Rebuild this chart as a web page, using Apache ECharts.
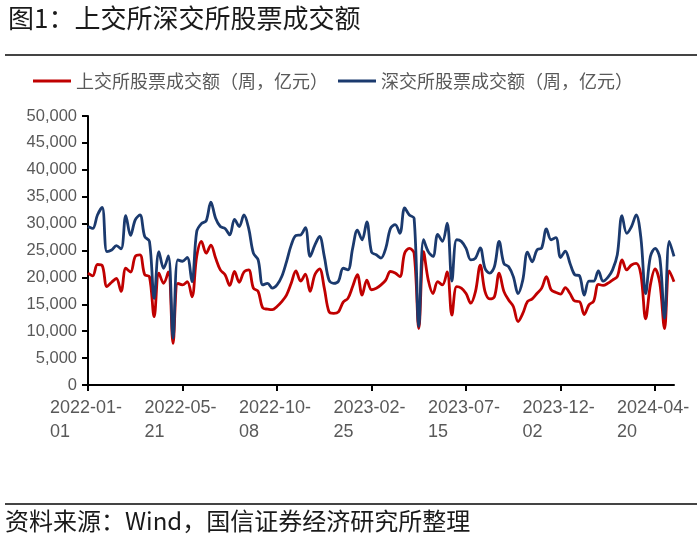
<!DOCTYPE html>
<html>
<head>
<meta charset="utf-8">
<script src="https://cdn.jsdelivr.net/npm/echarts@6/dist/echarts.min.js"></script>
<style>
html,body{margin:0;padding:0;background:#fff;}
#c{width:700px;height:546px;}
</style>
</head>
<body>
<div id="c"></div>
<script>
// Weekly data starting 2022-01-01 (125 weeks)
const startDate = '2022-01-01';
const weekCount = 125;
const shSeriesName = '上交所股票成交额（周，亿元）';
const szSeriesName = '深交所股票成交额（周，亿元）';
const yTicks = [0, 5000, 10000, 15000, 20000, 25000, 30000, 35000, 40000, 45000, 50000];

const shValues = [
  20800, 20300, 22400, 22200, 18300, 19100, 19800, 17400, 21700, 21000,
  23900, 24200, 20500, 20150, 12700, 20800, 18900, 21000, 7750, 18900,
  18600, 19200, 16400, 23900, 26700, 24500, 26000, 23600, 21400, 20500,
  18500, 21100, 19100, 21000, 21400, 18000, 17400, 14300, 14100, 14000,
  14600, 15500, 16700, 18900, 21200, 19300, 20600, 17400, 20500, 21600,
  18000, 13600, 13300, 13600, 15400, 16100, 18300, 20500, 16700, 19500,
  17700, 18000, 18600, 19500, 21100, 20800, 20150, 24500, 25400, 24500,
  10500, 24800, 19500, 17000, 19200, 18600, 21000, 13000, 18300, 18000,
  17000, 15200, 17400, 22300, 17400, 16000, 16400, 20800, 17400, 15800,
  14600, 11800, 13300, 15500, 16000, 17000, 18000, 20150, 17700, 17200,
  16900, 18100, 17000, 15600, 15500, 13100, 14900, 15600, 18700, 18500,
  18900, 19500, 20150, 23250, 21400, 22300, 22600, 20500, 12300, 18600,
  21600, 18900, 10500, 21200, 19200
];

const szValues = [
  29450, 29100, 31600, 33000, 24800, 25100, 25900, 25300, 31500, 27800,
  30700, 31600, 27600, 26700, 16100, 24800, 21700, 24000, 8700, 23250,
  23000, 23700, 19200, 28500, 30000, 30500, 34000, 31000, 29450, 29100,
  27900, 30800, 29450, 31600, 29100, 24500, 23250, 18600, 18900, 18000,
  18600, 20150, 22900, 26000, 27800, 27900, 29250, 23900, 26000, 27600,
  23900, 19500, 18900, 19300, 21700, 21400, 25400, 28800, 27000, 30300,
  24700, 24200, 23600, 25400, 29100, 29800, 28200, 32900, 31600, 31000,
  10850, 27000, 24800, 23900, 28000, 26700, 30100, 19300, 27000, 26700,
  25400, 23250, 23600, 25500, 21700, 20800, 22000, 26700, 22600, 22000,
  20150, 17000, 19500, 24700, 22900, 25100, 25500, 29000, 27000, 27400,
  23700, 24900, 22600, 20500, 20300, 16700, 19300, 19300, 21200, 19300,
  20000, 21400, 24200, 31500, 28200, 29450, 31600, 27300, 17000, 23900,
  25400, 23600, 12400, 26700, 23900
];

// weekly category labels
const categories = [];
(function(){
  const p = startDate.split('-').map(Number);
  const t0 = Date.UTC(p[0], p[1]-1, p[2]);
  for (let i = 0; i < weekCount; i++) {
    const d = new Date(t0 + i * 7 * 86400000);
    const s = d.getUTCFullYear() + '-' + String(d.getUTCMonth()+1).padStart(2,'0') + '-' + String(d.getUTCDate()).padStart(2,'0');
    categories.push(s);
  }
})();

const RED = '#C00000';
const BLUE = '#1B3A6E';
const LABEL = '#595959';
const FONT = '"Liberation Sans", Arial, "Noto Sans CJK SC", sans-serif';
const CJK = '"Noto Sans CJK SC", "Liberation Sans", sans-serif';

const chart = echarts.init(document.getElementById('c'), null, {renderer: 'canvas'});
chart.setOption({
  backgroundColor: '#fff',
  animation: false,
  title: {
    text: '图1：上交所深交所股票成交额',
    left: 3, top: 0,
    textStyle: {fontFamily: CJK, fontSize: 26, fontWeight: 'normal', color: '#1a1a1a'}
  },
  graphic: [
    {type: 'line', shape: {x1: 5, y1: 55, x2: 697, y2: 55}, style: {stroke: '#444', lineWidth: 2}},
    {type: 'line', shape: {x1: 5, y1: 504, x2: 697, y2: 504}, style: {stroke: '#444', lineWidth: 2}},
    {type: 'text', left: 5, top: 509, style: {text: '资料来源：Wind，国信证券经济研究所整理', font: '24px "Noto Sans CJK SC", sans-serif', fill: '#1a1a1a'}}
  ],
  legend: {
    left: 28, top: 67,
    itemWidth: 38, itemHeight: 3, itemGap: 10,
    icon: 'rect',
    textStyle: {fontFamily: CJK, fontSize: 18, color: LABEL},
    data: [shSeriesName, szSeriesName]
  },
  grid: {left: 88, right: 26, top: 116, bottom: 161, containLabel: false},
  xAxis: {
    type: 'category',
    data: categories,
    boundaryGap: false,
    axisLine: {lineStyle: {color: '#000', width: 2}},
    axisTick: {show: true, interval: 19, length: 6, lineStyle: {color: '#000', width: 2}},
    axisLabel: {
      interval: 19,
      margin: 11,
      formatter: function(v){ return '{a|' + v.slice(0,8) + '}\n{a|' + v.slice(8) + '}'; },
      rich: {a: {width: 76, align: 'left', fontFamily: FONT, fontSize: 18, color: LABEL, lineHeight: 24}}
    },
    splitLine: {show: false}
  },
  yAxis: {
    type: 'value',
    min: yTicks[0], max: yTicks[yTicks.length-1], interval: yTicks[1]-yTicks[0],
    axisLine: {show: true, lineStyle: {color: '#000', width: 2}},
    axisTick: {show: true, length: 6, lineStyle: {color: '#000', width: 2}},
    axisLabel: {
      margin: 11,
      fontFamily: FONT, fontSize: 16.5, color: LABEL,
      formatter: function(v){ return v === 0 ? '0' : v.toLocaleString('en-US'); }
    },
    splitLine: {show: false}
  },
  series: [
    {
      name: shSeriesName, type: 'line', data: shValues,
      smooth: 0.35, showSymbol: false, symbol: 'none',
      lineStyle: {color: RED, width: 2.8}, itemStyle: {color: RED}
    },
    {
      name: szSeriesName, type: 'line', data: szValues,
      smooth: 0.35, showSymbol: false, symbol: 'none',
      lineStyle: {color: BLUE, width: 2.8}, itemStyle: {color: BLUE}
    }
  ]
});
</script>
</body>
</html>
